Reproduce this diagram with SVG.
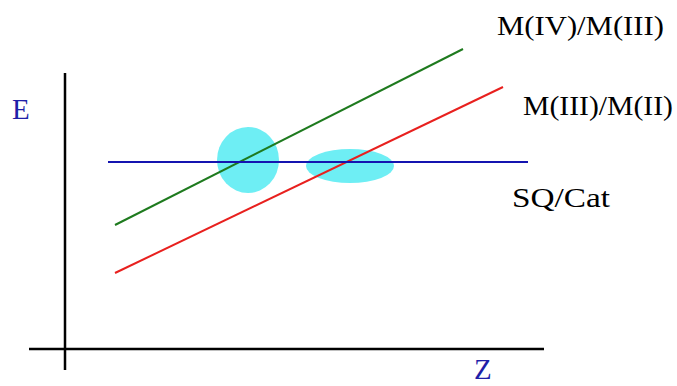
<svg xmlns="http://www.w3.org/2000/svg" width="677" height="386" viewBox="0 0 677 386">
<style>
.ax{stroke:#000;stroke-width:2.5;fill:none}
.ln{stroke-width:2;fill:none}
.lab{font-family:"Liberation Serif","DejaVu Serif",serif;font-size:28px;fill:#000}
.axl{font-family:"Liberation Serif","DejaVu Serif",serif;font-size:29px;fill:#1f1fa8}
.blob{fill:#6eeef4}
</style>
<rect width="677" height="386" fill="#fff"/>
<g id="regions">
<ellipse class="blob" cx="248" cy="160" rx="31" ry="33"/>
<ellipse class="blob" cx="350" cy="166" rx="44" ry="17"/>
</g>
<g id="axes">
<line class="ax" x1="65" y1="73" x2="65" y2="370"/>
<line class="ax" x1="29" y1="349" x2="544" y2="349"/>
</g>
<g id="connectors">
<line class="ln" x1="115" y1="225" x2="463" y2="49" stroke="#1e7a1e"/>
<line class="ln" x1="115" y1="273" x2="503" y2="87" stroke="#e8201e"/>
<line class="ln" x1="108" y1="162" x2="528" y2="162" stroke="#1414b0" stroke-width="2.5"/>
</g>
<g id="labels">
<text class="axl" x="12" y="119">E</text>
<text class="axl" x="474" y="379" font-size="28">Z</text>
<text class="lab" x="497" y="35" textLength="167" lengthAdjust="spacingAndGlyphs">M(IV)/M(III)</text>
<text class="lab" x="523" y="115" textLength="150" lengthAdjust="spacingAndGlyphs">M(III)/M(II)</text>
<text class="lab" x="512" y="207" textLength="98" lengthAdjust="spacingAndGlyphs">SQ/Cat</text>
</g>
</svg>
